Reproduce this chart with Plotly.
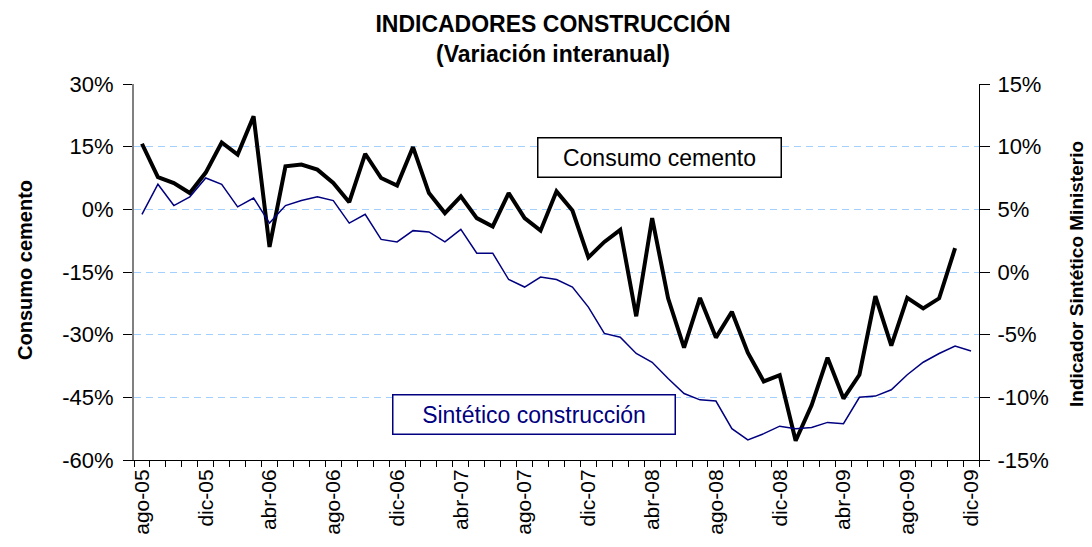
import plotly.graph_objects as go

# Months (category axis)
months = [
    "ago-05", "sep-05", "oct-05", "nov-05", "dic-05",
    "ene-06", "feb-06", "mar-06", "abr-06", "may-06", "jun-06", "jul-06", "ago-06", "sep-06", "oct-06", "nov-06", "dic-06",
    "ene-07", "feb-07", "mar-07", "abr-07", "may-07", "jun-07", "jul-07", "ago-07", "sep-07", "oct-07", "nov-07", "dic-07",
    "ene-08", "feb-08", "mar-08", "abr-08", "may-08", "jun-08", "jul-08", "ago-08", "sep-08", "oct-08", "nov-08", "dic-08",
    "ene-09", "feb-09", "mar-09", "abr-09", "may-09", "jun-09", "jul-09", "ago-09", "sep-09", "oct-09", "nov-09", "dic-09",
]

# Consumo cemento (% interanual, left axis) - ago-05 .. nov-09
cemento = [
    15.7, 7.7, 6.3, 3.9, 8.8, 16.0, 13.1, 22.3, -9.0, 10.3, 10.7, 9.5, 6.3,
    1.7, 13.3, 7.5, 5.7, 14.9, 3.9, -0.9, 3.1, -2.1, -4.1, 3.9, -2.1, -5.1,
    4.3, -0.3, -11.5, -7.8, -4.9, -25.6, -2.1, -21.3, -33.1, -21.2, -30.7, -24.5,
    -34.3, -41.2, -39.7, -55.4, -46.9, -35.5, -45.3, -39.6, -20.8, -32.6, -21.2,
    -23.7, -21.3, -9.3,
]

# Indicador Sintético Ministerio (% interanual, right axis) - ago-05 .. dic-09
sintetico = [
    4.6, 7.0, 5.3, 6.0, 7.5, 7.0, 5.2, 5.9, 3.9, 5.3, 5.7, 6.0, 5.7,
    3.9, 4.6, 2.6, 2.4, 3.3, 3.2, 2.4, 3.4, 1.5, 1.5, -0.6, -1.2, -0.4,
    -0.6, -1.2, -2.8, -4.9, -5.2, -6.5, -7.2, -8.5, -9.7, -10.2, -10.3, -12.5,
    -13.4, -12.9, -12.3, -12.5, -12.4, -12.0, -12.1, -10.0, -9.9, -9.4, -8.2,
    -7.2, -6.5, -5.9, -6.3,
]

x_tick_labels = ["ago-05", "", "", "", "dic-05", "", "", "", "abr-06", "", "", "", "ago-06",
                 "", "", "", "dic-06", "", "", "", "abr-07", "", "", "", "ago-07",
                 "", "", "", "dic-07", "", "", "", "abr-08", "", "", "", "ago-08",
                 "", "", "", "dic-08", "", "", "", "abr-09", "", "", "", "ago-09",
                 "", "", "", "dic-09"]

left_ticks = [-60, -45, -30, -15, 0, 15, 30]
left_tick_labels = ["-60%", "-45%", "-30%", "-15%", "0%", "15%", "30%"]
right_ticks = [-15, -10, -5, 0, 5, 10, 15]
right_tick_labels = ["-15%", "-10%", "-5%", "0%", "5%", "10%", "15%"]

FONT = "Liberation Sans, Arial, sans-serif"

# The page body adds an 8px offset; figure sized to fit the window exactly.
W, H = 1084, 539

fig = go.Figure()
fig.add_trace(go.Scatter(
    x=months[:len(cemento)], y=cemento, mode="lines", name="Consumo cemento",
    line=dict(color="black", width=4), yaxis="y",
))
fig.add_trace(go.Scatter(
    x=months, y=sintetico, mode="lines", name="Sintético construcción",
    line=dict(color="#000080", width=1.5), yaxis="y2",
))

xcommon = dict(
    type="category", categoryorder="array", categoryarray=months,
    tickvals=months, tickson="boundaries",
    tickcolor="black", tickwidth=1,
    showgrid=False, zeroline=False,
    range=[-0.5, len(months) - 0.5],
)

fig.update_layout(
    width=W, height=H,
    paper_bgcolor="white", plot_bgcolor="white",
    showlegend=False,
    margin=dict(l=126, r=113, t=76, b=87),
    font=dict(family=FONT, color="black"),
    title=dict(
        text="<b>INDICADORES CONSTRUCCIÓN</b><br><b>(Variación interanual)</b>",
        x=545 / W, xanchor="center", xref="container",
        y=1 - 24 / H, yanchor="top", yref="container",
        font=dict(size=23, family=FONT, color="black"),
    ),
    xaxis=dict(
        **xcommon,
        ticktext=x_tick_labels,
        ticks="outside", ticklen=6,
        tickangle=-90, tickfont=dict(size=21),
        showline=True, linecolor="black", linewidth=1,
    ),
    xaxis2=dict(
        **xcommon,
        overlaying="x", anchor="y", side="bottom",
        ticks="inside", ticklen=6, showticklabels=False, showline=False,
    ),
    yaxis=dict(
        range=[-60, 30], tickvals=left_ticks, ticktext=left_tick_labels,
        ticks="outside", ticklen=9, tickcolor="black", tickwidth=1,
        tickfont=dict(size=22), ticklabelstandoff=5,
        showline=True, linecolor="#808080", linewidth=2,
        showgrid=True, gridcolor="#A3D0FF", gridwidth=1, griddash="7px,5px",
        zeroline=False,
    ),
    yaxis2=dict(
        range=[-15, 15], tickvals=right_ticks, ticktext=right_tick_labels,
        overlaying="y", side="right", anchor="x",
        ticks="outside", ticklen=10, tickcolor="black", tickwidth=1,
        tickfont=dict(size=22), ticklabelstandoff=3,
        showline=True, linecolor="black", linewidth=1,
        showgrid=False, zeroline=False,
    ),
    yaxis3=dict(
        range=[-60, 30], tickvals=left_ticks, overlaying="y", side="left", anchor="x",
        ticks="inside", ticklen=8, tickcolor="black", tickwidth=1,
        showticklabels=False, showline=False, showgrid=False, zeroline=False,
    ),
    yaxis4=dict(
        range=[-15, 15], tickvals=right_ticks, overlaying="y", side="right", anchor="x",
        ticks="inside", ticklen=10, tickcolor="black", tickwidth=1,
        showticklabels=False, showline=False, showgrid=False, zeroline=False,
    ),
    annotations=[
        dict(text="<b>Consumo cemento</b>", xref="paper", yref="paper",
             x=(25 - 134) / 845, y=(460 - 270) / 376, textangle=-90,
             showarrow=False, xanchor="center", yanchor="middle",
             font=dict(size=20, color="black")),
        dict(text="<b>Indicador Sintético Ministerio</b>", xref="paper", yref="paper",
             x=(1076 - 134) / 845, y=(460 - 274) / 376, textangle=-90,
             showarrow=False, xanchor="center", yanchor="middle",
             font=dict(size=19, color="black")),
        dict(text="Consumo cemento", xref="paper", yref="paper",
             x=(659.5 - 134) / 845, y=(460 - 157.7) / 376,
             showarrow=False, xanchor="center", yanchor="middle",
             width=240, height=36, align="center", valign="middle",
             bgcolor="white", bordercolor="black", borderwidth=1.5, borderpad=1,
             font=dict(size=23, color="black")),
        dict(text="Sintético construcción", xref="paper", yref="paper",
             x=(534 - 134) / 845, y=(460 - 414.5) / 376,
             showarrow=False, xanchor="center", yanchor="middle",
             width=279, height=36, align="center", valign="middle",
             bgcolor="white", bordercolor="#000080", borderwidth=1.5, borderpad=1,
             font=dict(size=23, color="#000080")),
    ],
)

fig.write_html("out.html")
